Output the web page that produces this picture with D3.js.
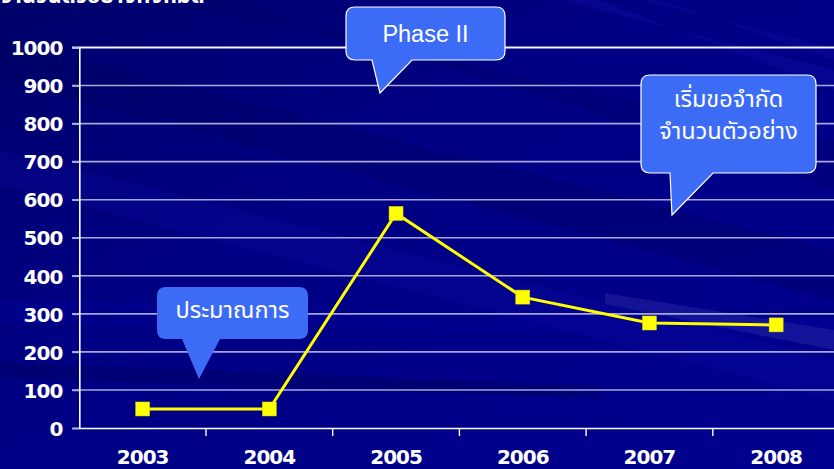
<!DOCTYPE html>
<html><head><meta charset="utf-8">
<script src="https://cdn.jsdelivr.net/npm/d3@7/dist/d3.min.js"></script>
<style>
html,body{margin:0;padding:0;background:#00007e;overflow:hidden}
svg{display:block}
</style></head>
<body>
<svg id="c" width="834" height="469"></svg>
<script>
const years = ["2003","2004","2005","2006","2007","2008"];
const samples = [50, 50, 564, 344, 276, 271];
const yTicks = [0,100,200,300,400,500,600,700,800,900,1000];
const titleText = "จำนวนตัวอย่างทั้งหมด";
const callouts = [
  {lines:["ประมาณการ"], box:[157,287,151,52], ptr:[[182,339],[199,379],[220,339]], border:false},
  {lines:["Phase II"], box:[346,7,159,53], ptr:[[372,60],[380,93],[412,60]], border:true},
  {lines:["เริ่มขอจำกัด","จำนวนตัวอย่าง"], box:[641,75,175,98], ptr:[[670,173],[672,215],[713,173]], border:true}
];

const W=834,H=469;
const svg=d3.select("#c");
const defs=svg.append("defs");
const g1=defs.append("linearGradient").attr("id","bg").attr("x1",0).attr("y1",0).attr("x2",1).attr("y2",1);
g1.append("stop").attr("offset","0%").attr("stop-color","#00006a");
g1.append("stop").attr("offset","40%").attr("stop-color","#000084");
g1.append("stop").attr("offset","100%").attr("stop-color","#00008e");
svg.append("rect").attr("width",W).attr("height",H).attr("fill","url(#bg)");

// subtle diagonal streaks
const streaks=[
  {p:[[0,40],[0,80],[834,300],[834,250]],c:"#000060",o:0.35},
  {p:[[150,0],[240,0],[834,190],[834,140]],c:"#000066",o:0.3},
  {p:[[0,150],[0,185],[834,400],[834,360]],c:"#0a0aa0",o:0.3},
  {p:[[0,300],[0,322],[834,338],[834,318]],c:"#0000a0",o:0.3},
  {p:[[0,362],[0,378],[600,398],[600,386]],c:"#00005a",o:0.4},
  {p:[[605,293],[834,330],[834,350],[605,304]],c:"#4a4ab8",o:0.25},
  {p:[[560,0],[600,0],[834,90],[834,70]],c:"#1010a8",o:0.3},
  {p:[[640,0],[660,0],[834,60],[834,48]],c:"#1010a8",o:0.3}
];
svg.selectAll("path.st").data(streaks).join("path").attr("class","st")
  .attr("d",d=>"M"+d.p.map(q=>q.join(",")).join("L")+"Z")
  .attr("fill",d=>d.c).attr("opacity",d=>d.o);

// partially visible title (cut off at top edge as in the reference)
svg.append("text").attr("x",0).attr("y",3).attr("fill","#fff")
  .attr("font-family","Tahoma,'Noto Sans Thai','DejaVu Sans',sans-serif").attr("font-weight","bold")
  .attr("font-size",22).text(titleText);

const x0=79.3, band=126.7;
const x=d3.scaleBand().domain(years).range([x0,x0+band*years.length]);
const y=d3.scaleLinear().domain([0,1000]).range([428,47.5]);

const fontNum="'DejaVu Sans',Verdana,sans-serif";

// gridlines
svg.append("g").selectAll("line").data(yTicks.filter(t=>t>0&&t<1000)).join("line")
  .attr("x1",72).attr("x2",W).attr("y1",d=>y(d)).attr("y2",d=>y(d))
  .attr("stroke","#a8a8d8").attr("stroke-width",1.6);
// top line
svg.append("line").attr("x1",72).attr("x2",W).attr("y1",y(1000)).attr("y2",y(1000))
  .attr("stroke","#f4f4ff").attr("stroke-width",2);

// y axis
const yAxis=d3.axisLeft(y).tickValues(yTicks).tickSize(7).tickPadding(10).tickFormat(d3.format("d"));
const ya=svg.append("g").attr("transform",`translate(${x0},0)`).call(yAxis);
ya.select(".domain").attr("stroke","#fff").attr("stroke-width",1.6);
ya.selectAll(".tick line").attr("stroke","#b0b0dd").attr("stroke-width",1.6);
ya.selectAll("text").attr("fill","#fff").attr("font-family",fontNum).attr("font-weight","bold")
  .attr("font-size",20).attr("letter-spacing","-1px").attr("x",-17).attr("dy","0.36em");

// x axis
const xa=svg.append("g").attr("transform",`translate(0,${y(0)})`)
  .call(d3.axisBottom(x).tickSize(0).tickPadding(0));
xa.select(".domain").attr("stroke","#fff").attr("stroke-width",1.6);
xa.selectAll("text").attr("fill","#fff").attr("font-family",fontNum).attr("font-weight","bold")
  .attr("font-size",20).attr("letter-spacing","-1px").attr("y",36).attr("dy",0);
// boundary ticks
svg.append("g").selectAll("line").data(years.slice(1)).join("line")
  .attr("x1",d=>x(d)).attr("x2",d=>x(d)).attr("y1",y(0)).attr("y2",y(0)+8)
  .attr("stroke","#fff").attr("stroke-width",1.4);

// line
const cx=d=>x(d)+x.bandwidth()/2;
const data=years.map((yr,i)=>({yr,v:samples[i]}));
svg.append("path").datum(data)
  .attr("d",d3.line().x(d=>cx(d.yr)).y(d=>y(d.v)))
  .attr("fill","none").attr("stroke","#ffff00").attr("stroke-width",3);
svg.selectAll("rect.m").data(data).join("rect").attr("class","m")
  .attr("x",d=>cx(d.yr)-7).attr("y",d=>y(d.v)-7).attr("width",14).attr("height",14)
  .attr("fill","#ffff00").attr("stroke","#d8d800").attr("stroke-width",0.5);

// callouts
const cg=svg.append("g").selectAll("g").data(callouts).join("g");
cg.each(function(c){
  const gg=d3.select(this);
  const [bx,by,bw,bh]=c.box, r=9;
  const p=c.ptr;
  const path=`M${bx+r},${by}H${bx+bw-r}Q${bx+bw},${by} ${bx+bw},${by+r}V${by+bh-r}Q${bx+bw},${by+bh} ${bx+bw-r},${by+bh}`+
    `H${p[2][0]}L${p[1][0]},${p[1][1]}L${p[0][0]},${p[0][1]}`+
    `H${bx+r}Q${bx},${by+bh} ${bx},${by+bh-r}V${by+r}Q${bx},${by} ${bx+r},${by}Z`;
  gg.append("path").attr("d",path).attr("fill","#3c6cf6")
    .attr("stroke",c.border?"#ffffff":"none").attr("stroke-width",1.2);
  const n=c.lines.length, lh=32;
  const latin=/[a-zA-Z]/.test(c.lines[0]);
  const tx=gg.append("text").attr("text-anchor","middle").attr("fill","#fff")
    .attr("font-family",latin?"'Liberation Sans',Arial,sans-serif":"Tahoma,'Noto Sans Thai',sans-serif")
    .attr("font-size",23.5);
  c.lines.forEach((t,i)=>{
    tx.append("tspan").attr("x",bx+bw/2)
      .attr("y",(n===1?by+bh/2+(latin?8:5):by+32+i*lh)).text(t);
  });
});
</script>
</body></html>
